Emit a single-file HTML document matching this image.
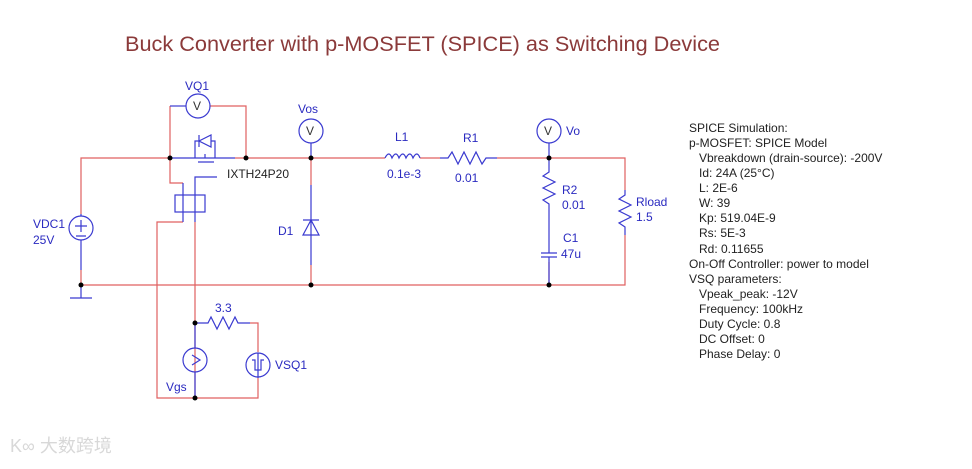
<!DOCTYPE html>
<html><head><style>
body{margin:0;background:#fff;}
svg text{font-family:"Liberation Sans",sans-serif;}
</style></head><body>
<svg width="972" height="464" viewBox="0 0 972 464" xmlns="http://www.w3.org/2000/svg">
<text x="125" y="51" font-size="21.7" fill="#8b3a3a">Buck Converter with p-MOSFET (SPICE) as Switching Device</text>
<g fill="none" stroke-width="1.2">
<g stroke="#e06060">
<path d="M81 214 V158 H170 M235 158 H385 M420 158 H440 M497 158 H625 V190 M625 235 V285 H81 V270"/>
<path d="M311 185 V158 M311 265 V285 M549 285 V262"/>
<path d="M170 158 V106 M210 106 H246 V158"/>
<path d="M170 158 V183 H183 M183 222 H157 V398 H258 V378 M195 222 V398 M258 352 V323 H250"/>
</g>
<g stroke="#3a3ad0">
<path d="M81 214 V216 M81 240 V270 M81 285 V298 M70 298 H92"/>
<path d="M170 106 H186"/>
<path d="M170 158 H235 M195 158 V150 V141 H199 M211 141 H215 V150 V158 M199 135 V147 M199 141 L211 135 V147 Z"/>
<path d="M198 162 H203 M203 162 H208 M208 162 H214 M205 158 V154"/>
<path d="M217 177 H195 V222 M183 183 V222"/>
<rect x="175" y="195" width="30" height="17"/>
<path d="M311 143 V158 M311 185 V265 M303 220 H319 M311 220 L303 235 H319 Z"/>
<path d="M385 158 q4 -8 7 0 q4 -8 7 0 q4 -8 7 0 q4 -8 7 0 q4 -8 7 0"/>
<path d="M440 158 H448 l4 -6 l6 12 l6 -12 l6 12 l6 -12 l6 12 l4 -6 H497"/>
<path d="M549 143 V172 l-6 4 l12 6 l-12 6 l12 6 l-12 6 l6 4 V253 M541 253 H557 M541 257 H557 M549 257 V285"/>
<path d="M625 190 V195 l-6 4 l12 6 l-12 6 l12 6 l-12 6 l6 4 V235"/>
<path d="M195 323 V348 M195 372 V398 M195 323 H208 l3 -6 l6 12 l6 -12 l6 12 l6 -12 l3 6 H250 M258 353 V378"/>
<path d="M192 355 L200 360 L192 365"/>
<circle cx="81" cy="228" r="12"/>
<circle cx="198" cy="106" r="12"/>
<circle cx="311" cy="131" r="12"/>
<circle cx="549" cy="131" r="12"/>
<circle cx="195" cy="360" r="12"/>
<circle cx="258" cy="365" r="12"/>
<path d="M75 226 H87 M81 220 V232 M76 236 H86"/>
<polyline points="252,360 255,360 255,370 261,370 261,360 264,360"/>
</g>
</g>
<g fill="#000">
<circle cx="81" cy="285" r="2.5"/><circle cx="170" cy="158" r="2.5"/><circle cx="246" cy="158" r="2.5"/>
<circle cx="311" cy="158" r="2.5"/><circle cx="311" cy="285" r="2.5"/><circle cx="549" cy="158" r="2.5"/><circle cx="549" cy="285" r="2.5"/>
<circle cx="195" cy="323" r="2.5"/><circle cx="195" cy="398" r="2.5"/>
</g>
<g font-size="12" fill="#333">
<text x="193" y="110">V</text><text x="306" y="135">V</text><text x="544" y="135">V</text>
</g>
<g font-size="12" fill="#2a2ac0">
<text x="185" y="90">VQ1</text><text x="298" y="113">Vos</text><text x="566" y="135">Vo</text>
<text x="395" y="141">L1</text><text x="387" y="178">0.1e-3</text>
<text x="463" y="142">R1</text><text x="455" y="182">0.01</text>
<text x="562" y="194">R2</text><text x="562" y="209">0.01</text>
<text x="563" y="242">C1</text><text x="561" y="258">47u</text>
<text x="636" y="206">Rload</text><text x="636" y="221">1.5</text>
<text x="33" y="228">VDC1</text><text x="33" y="244">25V</text>
<text x="278" y="235">D1</text>
<text x="215" y="312">3.3</text><text x="275" y="369">VSQ1</text><text x="166" y="391">Vgs</text>
</g>
<text x="227" y="178" font-size="12" fill="#222">IXTH24P20</text>
<g font-size="12" fill="#222">
<text x="689" y="132">SPICE Simulation:</text>
<text x="689" y="147">p-MOSFET: SPICE Model</text>
<text x="699" y="162">Vbreakdown (drain-source): -200V</text>
<text x="699" y="177">Id: 24A (25°C)</text>
<text x="699" y="192">L: 2E-6</text>
<text x="699" y="207">W: 39</text>
<text x="699" y="222">Kp: 519.04E-9</text>
<text x="699" y="237">Rs: 5E-3</text>
<text x="699" y="253">Rd: 0.11655</text>
<text x="689" y="268">On-Off Controller: power to model</text>
<text x="689" y="283">VSQ parameters:</text>
<text x="699" y="298">Vpeak_peak: -12V</text>
<text x="699" y="313">Frequency: 100kHz</text>
<text x="699" y="328">Duty Cycle: 0.8</text>
<text x="699" y="343">DC Offset: 0</text>
<text x="699" y="358">Phase Delay: 0</text>
</g>
<text x="10" y="452" font-size="18" fill="#d8d8d8" style="font-family:'Liberation Sans','Noto Sans CJK SC',sans-serif">K∞ 大数跨境</text>
</svg>
</body></html>
